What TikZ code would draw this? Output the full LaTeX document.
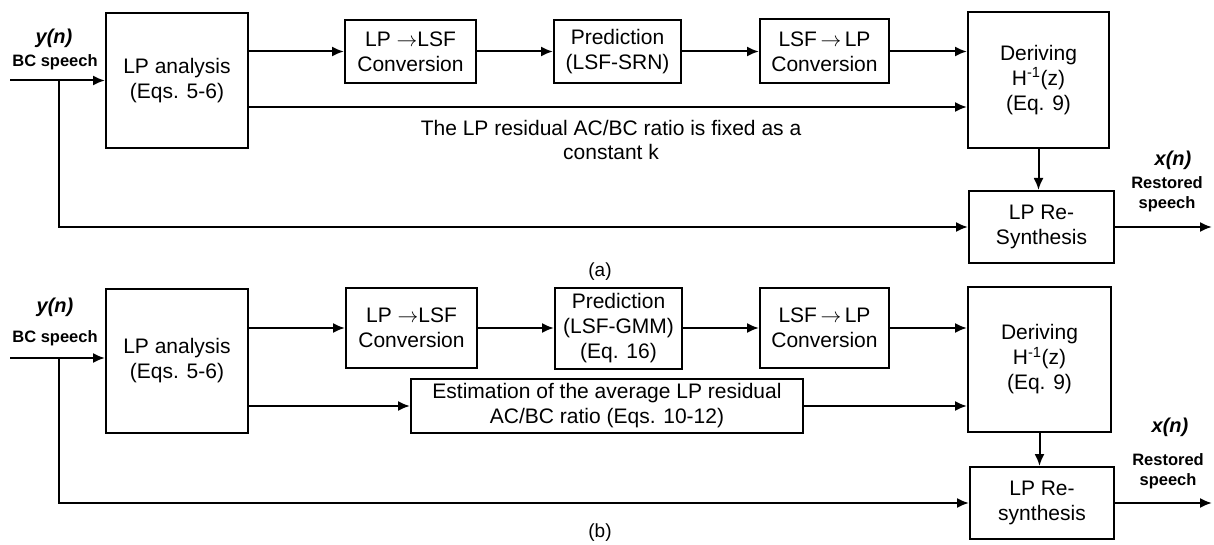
\documentclass[tikz,border=0pt]{standalone}
\usepackage{fontspec}
\setmainfont{Liberation Sans}
\usetikzlibrary{arrows.meta}

\begin{document}
\begin{tikzpicture}[x=1pt, y=-1pt, block/.style = {shape=rectangle, draw, line width=2pt, align=center, inner sep=0pt, font=\fontsize{21}{25}\selectfont}, arr/.style = {line width=2pt, -{Latex[length=12pt, width=10pt]}}, sig/.style = {font=\fontsize{20}{24}\selectfont\bfseries\itshape}, sub/.style = {align=center, inner sep=0pt, font=\fontsize{16.5}{20}\selectfont\bfseries}, note/.style = {align=center, font=\fontsize{21}{24}\selectfont}]
	\useasboundingbox (0,0) rectangle (1214,545);
	% (a)
	\node[block, minimum width=142, minimum height=135] (lpa) at (177,80.5) {LP analysis\\(Eqs. 5-6)};
	\node[block, minimum width=131, minimum height=63] (lsfa) at (410.5,51.5) {LP $\rightarrow$LSF\\Conversion};
	\node[block, minimum width=127, minimum height=63] (preda) at (617.5,51.5) {Prediction\\(LSF-SRN)};
	\node[block, minimum width=129, minimum height=64] (lpca) at (824.5,51.5) {LSF\,$\rightarrow$\,LP\\Conversion};
	\node[block, minimum width=141, minimum height=136] (dera) at (1038.5,80) {Deriving\\H\textsuperscript{-1}(z)\\(Eq. 9)};
	\node[block, minimum width=145, minimum height=72] (resa) at (1041.5,227) {LP Re-\\Synthesis};
	\node[note] (fixa) at (611,140) {The LP residual AC/BC ratio is fixed as a\\constant k};
	\node[sig] (yna) at (54,38) {y(n)};
	\node[sub] (bca) at (55,62) {BC speech};
	\node[sig] (xna) at (1173,160) {x(n)};
	\node[sub] (rsa) at (1167,194) {Restored\\speech};
	\node[note, font=\fontsize{19}{22}\selectfont] (capa) at (600,272) {(a)};
	\coordinate (ina) at (10,80.5);
	\coordinate (tapa) at (59,80.5);
	\coordinate (ka) at ([yshift=-26.5pt]lpa.east);
	\coordinate (outa) at (1212,227);
	\draw[arr] (ina) -- (lpa);
	\draw[arr] (lpa.east |- lsfa) -- (lsfa);
	\draw[arr] (lsfa) -- (preda);
	\draw[arr] (preda) -- (lpca);
	\draw[arr] (lpca) -- (dera.west |- lpca);
	\draw[arr] (ka) -- (ka -| dera.west);
	\draw[arr] (dera.south) -- (dera.south |- resa.north);
	\draw[arr] (tapa) |- (resa);
	\draw[arr] (resa) -- (outa);
	% (b)
	\node[block, minimum width=142, minimum height=144] (lpb) at (177,361) {LP analysis\\(Eqs. 5-6)};
	\node[block, minimum width=131, minimum height=80] (lsfb) at (411.5,328) {LP $\rightarrow$LSF\\Conversion};
	\node[block, minimum width=127, minimum height=81] (predb) at (618.5,328) {Prediction\\(LSF-GMM)\\(Eq. 16)};
	\node[block, minimum width=129, minimum height=80] (lpcb) at (824.5,328) {LSF\,$\rightarrow$\,LP\\Conversion};
	\node[block, minimum width=392, minimum height=54] (estb) at (607,406) {Estimation of the average LP residual\\AC/BC ratio (Eqs. 10-12)};
	\node[block, minimum width=143, minimum height=145] (derb) at (1039.5,359.5) {Deriving\\H\textsuperscript{-1}(z)\\(Eq. 9)};
	\node[block, minimum width=144, minimum height=72] (resb) at (1042,503) {LP Re-\\synthesis};
	\node[sig] (ynb) at (55,307) {y(n)};
	\node[sub] (bcb) at (55,338) {BC speech};
	\node[sig] (xnb) at (1170,427) {x(n)};
	\node[sub] (rsb) at (1168,471) {Restored\\speech};
	\node[note, font=\fontsize{19}{22}\selectfont] (capb) at (600,533) {(b)};
	\coordinate (inb) at (10,358);
	\coordinate (tapb) at (59,358);
	\coordinate (outb) at (1212,503);
	\draw[arr] (inb) -- (inb -| lpb.west);
	\draw[arr] (lpb.east |- lsfb) -- (lsfb);
	\draw[arr] (lsfb) -- (predb);
	\draw[arr] (predb) -- (lpcb);
	\draw[arr] (lpcb) -- (derb.west |- lpcb);
	\draw[arr] (lpb.east |- estb) -- (estb);
	\draw[arr] (estb) -- (derb.west |- estb);
	\draw[arr] (derb.south) -- (derb.south |- resb.north);
	\draw[arr] (tapb) |- (resb);
	\draw[arr] (resb) -- (outb);
\end{tikzpicture}
\end{document}
